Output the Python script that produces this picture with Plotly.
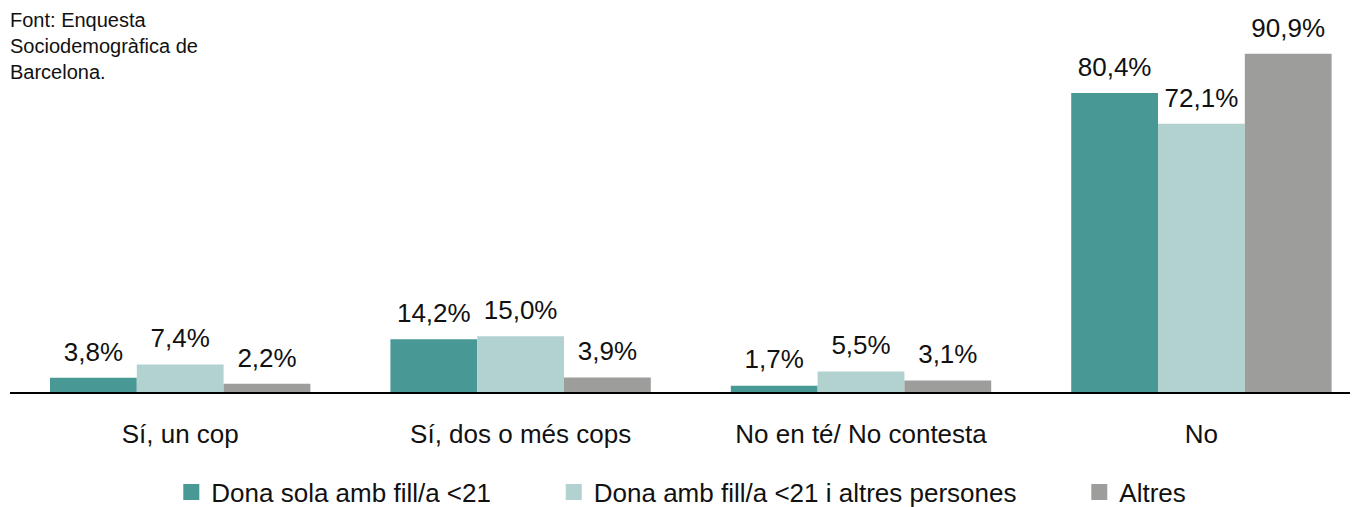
import plotly.graph_objects as go

categories = ["Sí, un cop", "Sí, dos o més cops", "No en té/ No contesta", "No"]
series_names = ["Dona sola amb fill/a <21", "Dona amb fill/a <21 i altres persones", "Altres"]
sola = [3.8, 14.2, 1.7, 80.4]
amb_altres = [7.4, 15.0, 5.5, 72.1]
altres = [2.2, 3.9, 3.1, 90.9]
colors = ["#489896", "#b2d2d0", "#9d9d9c"]

FONT = "Liberation Sans, Arial, sans-serif"
LABEL_GAP = 2.2  # extra room between bar top and its label, in axis units


def pct(v):
    return f"{v:.1f}".replace(".", ",") + "%"


fig = go.Figure()
for i, (name, vals, col) in enumerate(zip(series_names, [sola, amb_altres, altres], colors)):
    fig.add_trace(
        go.Bar(
            x=categories,
            y=vals,
            name=name,
            offsetgroup=str(i),
            marker=dict(color=col, line=dict(width=0)),
            showlegend=False,
        )
    )
    # transparent spacer bar sitting on top, carries the value label
    fig.add_trace(
        go.Bar(
            x=categories,
            y=[LABEL_GAP] * len(vals),
            base=vals,
            offsetgroup=str(i),
            marker=dict(color="rgba(0,0,0,0)", line=dict(width=0)),
            text=[pct(v) for v in vals],
            textposition="outside",
            textfont=dict(size=26, color="#111111", family=FONT),
            cliponaxis=False,
            showlegend=False,
            hoverinfo="skip",
        )
    )

# legend entries with bigger square swatches
for i, (name, col) in enumerate(zip(series_names, colors)):
    pad = "\u00a0" * 8 if i < len(series_names) - 1 else ""
    fig.add_trace(
        go.Scatter(
            x=[None], y=[None], mode="markers", name=name + pad,
            marker=dict(symbol="square", size=20, color=col),
        )
    )

fig.add_annotation(
    text="Font: Enquesta<br>Sociodemogràfica de<br>Barcelona.",
    xref="paper", yref="paper", x=-0.0015, y=1.034,
    xanchor="left", yanchor="top", align="left", showarrow=False,
    font=dict(size=20, color="#111111", family=FONT),
)

fig.update_layout(
    width=1350,
    height=499,
    margin=dict(l=2, r=0, t=12, b=115),
    paper_bgcolor="white",
    plot_bgcolor="white",
    barmode="group",
    bargap=0.235,
    bargroupgap=0,
    font=dict(family=FONT, color="#111111"),
    legend=dict(
        orientation="h", x=0.498, xanchor="center",
        yref="container", y=0.03, yanchor="middle",
        font=dict(size=26, family=FONT), itemwidth=30, traceorder="normal",
    ),
    xaxis=dict(
        range=[-0.5, 3.46], showline=True, linecolor="black", linewidth=2,
        ticks="", tickfont=dict(size=26, family=FONT), showgrid=False,
        ticklabelstandoff=18,
    ),
    yaxis=dict(range=[0, 100], visible=False, showgrid=False),
)

fig.write_html("out.html")
